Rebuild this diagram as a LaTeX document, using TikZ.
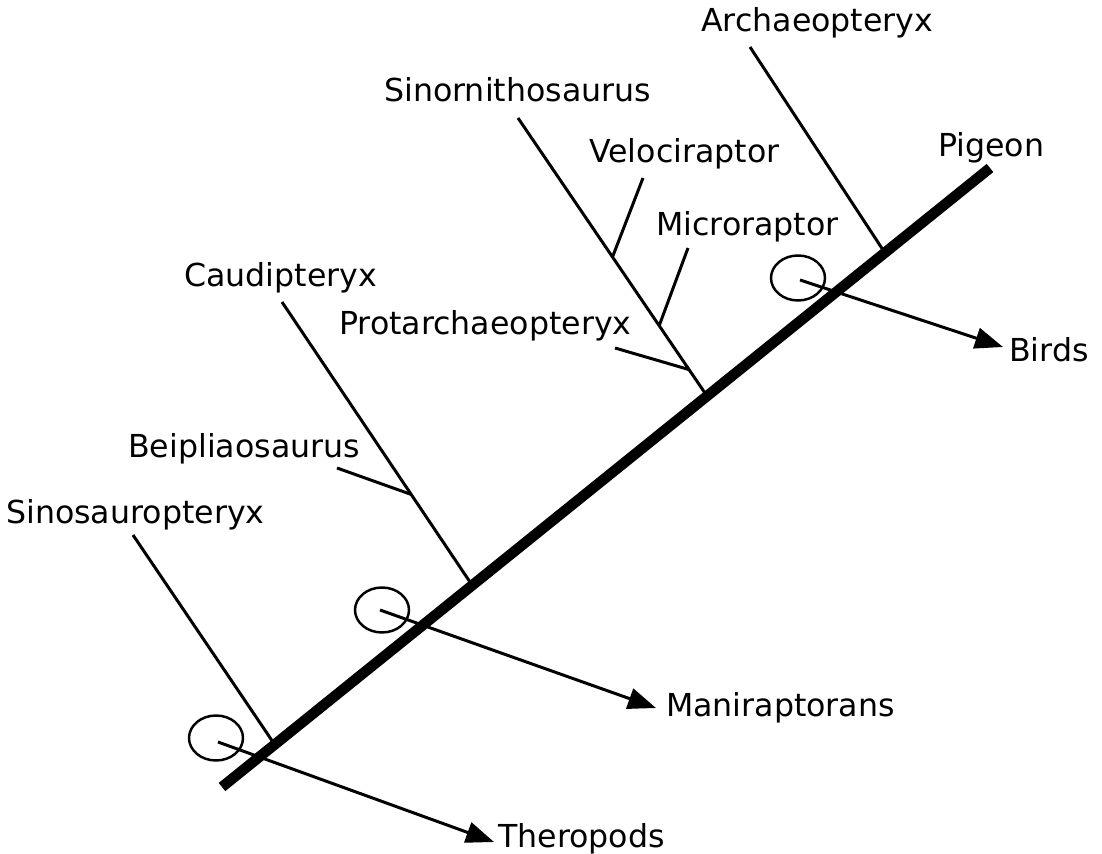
\documentclass[tikz,border=0pt]{standalone}
\usepackage{fontspec}
\setmainfont{DejaVu Sans}
\usetikzlibrary{arrows.meta, positioning, calc, shapes.geometric}

\begin{document}
\begin{tikzpicture}[
    x=0.02cm, y=-0.02cm,
    % === STYLES ===
    taxon/.style={
        font=\fontsize{18}{21}\selectfont,
        anchor=base west,
        text=black
    },
    spine/.style={
        line width=6pt,
        line cap=butt,
        black
    },
    branch/.style={
        line width=1.7pt,
        black
    },
    clade/.style={
        ellipse,
        draw=black,
        line width=1.4pt,
        minimum width=1.08cm,
        minimum height=0.9cm,
        inner sep=0pt
    },
    cladearrow/.style={
        -{Triangle[length=0.56cm,width=0.42cm]},
        line width=1.7pt,
        black
    }
]
\useasboundingbox (0,0) rectangle (1102,854);

% === MAIN LINE ===
\coordinate (root) at (222,787);
\coordinate (pigeonEnd) at (990,168);
\draw[spine] (root) -- (pigeonEnd);

% === JUNCTIONS ON THE MAIN LINE ===
\coordinate (jSino)  at (275,745);
\coordinate (jCaud)  at (472,585);
\coordinate (jSinor) at (707,396);
\coordinate (jArch)  at (885,253);

% === BRANCH TIPS ===
\coordinate (sinoTop)  at (133,535);
\coordinate (caudTop)  at (282,302);
\coordinate (beiTop)   at (337,468);
\coordinate (sinorTop) at (518,118);
\coordinate (veloTop)  at (643,178);
\coordinate (microTop) at (688,248);
\coordinate (protoTop) at (615,348);
\coordinate (archTop)  at (750,47);

% side branches join these
\path (caudTop) -- (jCaud) coordinate[pos=0.68] (jBei);
\path (sinorTop) -- (jSinor) coordinate[pos=0.50] (jVelo);
\path (sinorTop) -- (jSinor) coordinate[pos=0.747] (jMicro);
\path (sinorTop) -- (jSinor) coordinate[pos=0.905] (jProto);

% === BRANCHES ===
\draw[branch] (sinoTop) -- (jSino);
\draw[branch] (caudTop) -- (jCaud);
\draw[branch] (beiTop) -- (jBei);
\draw[branch] (sinorTop) -- (jSinor);
\draw[branch] (veloTop) -- (jVelo);
\draw[branch] (microTop) -- (jMicro);
\draw[branch] (protoTop) -- (jProto);
\draw[branch] (archTop) -- (jArch);

% === TAXON LABELS ===
\node[taxon] (sinosauropteryx)   at (0,523)   {Sinosauropteryx};
\node[taxon] (beipiaosaurus)     at (122,458) {Beipliaosaurus};
\node[taxon] (caudipteryx)       at (178,287) {Caudipteryx};
\node[taxon] (protarchaeopteryx) at (333,335) {Protarchaeopteryx};
\node[taxon] (sinornithosaurus)  at (378,102) {Sinornithosaurus};
\node[taxon] (velociraptor)      at (583,163) {Velociraptor};
\node[taxon] (microraptor)       at (650,236) {Microraptor};
\node[taxon] (archaeopteryx)     at (695,32)  {Archaeopteryx};
\node[taxon] (pigeon)            at (932,157) {Pigeon};

% === CLADES ===
\node[clade] (birdsClade) at (798,278) {};
\node[clade] (maniClade)  at (382,610) {};
\node[clade] (theroClade) at (216,738) {};

\node[taxon] (birds)         at (1003,362) {Birds};
\node[taxon] (maniraptorans) at (660,716)  {Maniraptorans};
\node[taxon] (theropods)     at (492,847)  {Theropods};

\draw[cladearrow] ([shift={(2,2)}]birdsClade.center) -- ([yshift=0.3cm]birds.base west);
\draw[cladearrow] ([shift={(-2,0)}]maniClade.center) -- ([shift={(-4,0)},yshift=0.16cm]maniraptorans.base west);
\draw[cladearrow] ([shift={(2,4)}]theroClade.center) -- ([shift={(2,0)},yshift=0.1cm]theropods.base west);

\end{tikzpicture}
\end{document}
